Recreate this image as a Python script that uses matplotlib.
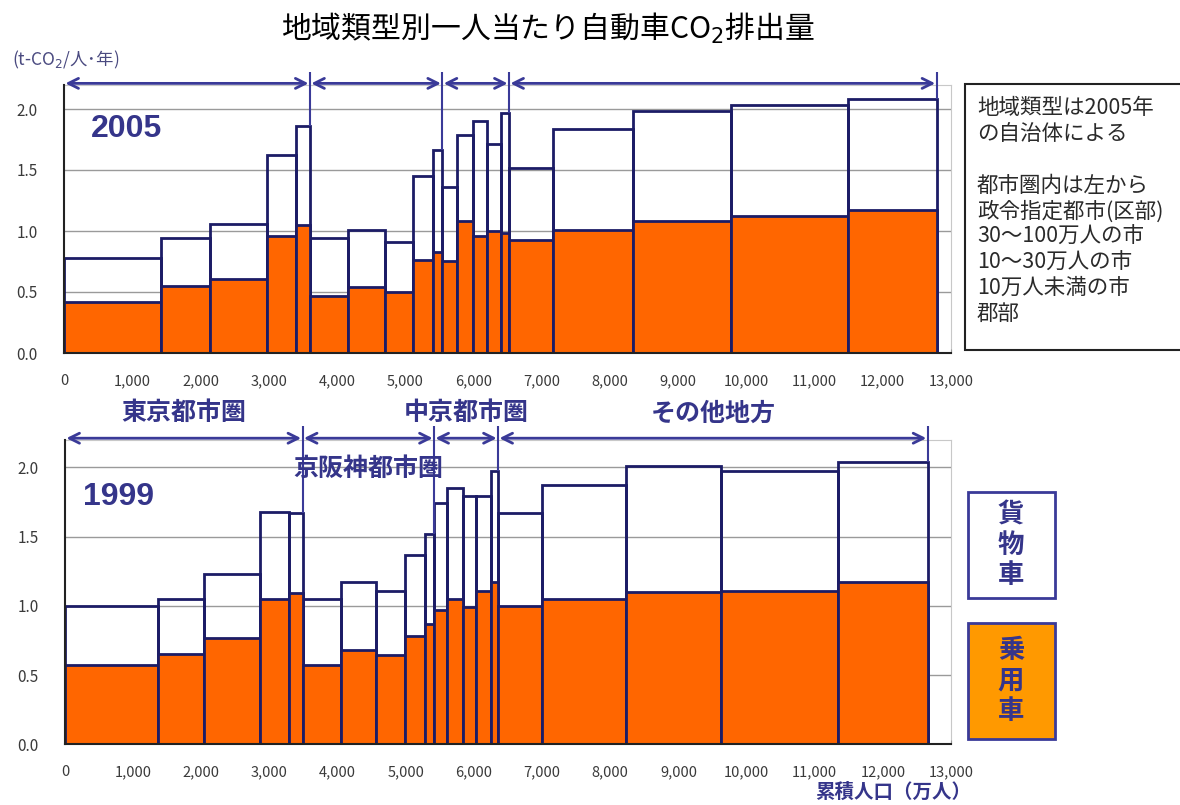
import numpy as np
import matplotlib
matplotlib.use('Agg')
import matplotlib.pyplot as plt
from matplotlib.patches import Rectangle

plt.rcParams['font.family'] = ['Noto Sans CJK JP', 'DejaVu Sans']
plt.rcParams['mathtext.fontset'] = 'dejavusans'

# 累積人口の区切り(万人) と 一人当たりCO2 (合計 / 乗用車)
edges_2005 = [0, 1415, 2138, 2979, 3394, 3604, 4167, 4699, 5114, 5408, 5545,
              5755, 5990, 6205, 6400, 6522, 7167, 8340, 9772, 11484, 12789]
total_2005 = [0.78, 0.94, 1.06, 1.62, 1.86, 0.94, 1.01, 0.91, 1.45, 1.66,
              1.36, 1.79, 1.90, 1.71, 1.97, 1.52, 1.84, 1.98, 2.03, 2.08]
car_2005 = [0.42, 0.55, 0.61, 0.96, 1.05, 0.47, 0.54, 0.50, 0.76, 0.83,
            0.75, 1.08, 0.96, 1.00, 0.98, 0.93, 1.01, 1.08, 1.12, 1.17]

edges_1999 = [0, 1359, 2038, 2859, 3280, 3485, 4047, 4556, 4995, 5279, 5415,
              5611, 5841, 6036, 6246, 6354, 6999, 8236, 9619, 11339, 12658]
total_1999 = [1.00, 1.05, 1.23, 1.68, 1.67, 1.05, 1.17, 1.11, 1.37, 1.52,
              1.74, 1.85, 1.79, 1.79, 1.97, 1.67, 1.87, 2.01, 1.97, 2.04]
car_1999 = [0.57, 0.65, 0.77, 1.05, 1.09, 0.57, 0.68, 0.645, 0.78, 0.87,
            0.97, 1.05, 0.99, 1.11, 1.17, 1.00, 1.05, 1.10, 1.11, 1.17]

regions = ['東京都市圏', '京阪神都市圏', '中京都市圏', 'その他地方']
xticks = np.arange(0, 14000, 1000)
yticks = [0.0, 0.5, 1.0, 1.5, 2.0]

note_lines = ['地域類型は2005年', 'の自治体による', '', '都市圏内は左から',
              '政令指定都市(区部)', '30～100万人の市', '10～30万人の市',
              '10万人未満の市', '郡部']

orange = '#FF6600'
edge = '#1c1c66'
navy = '#3a3a98'
txt_navy = '#35358a'

W, H = 1180, 805
fig = plt.figure(figsize=(W / 100, H / 100), dpi=100)


def px_axes(left, top, right, bottom):
    return fig.add_axes([left / W, 1 - bottom / H, (right - left) / W, (bottom - top) / H])


def draw_panel(ax, edges, total, car, year, year_pos, labels):
    edges = np.array(edges)
    widths = np.diff(edges)
    # 貨物車分は塗りなし(目盛線が透けて見える)
    ax.bar(edges[:-1], total, width=widths, align='edge', color='none',
           edgecolor=edge, linewidth=2, zorder=3)
    ax.bar(edges[:-1], car, width=widths, align='edge', color=orange,
           edgecolor=edge, linewidth=2, zorder=4)
    ax.set_xlim(0, 13000)
    ax.set_ylim(0, 2.2)
    ax.set_yticks(yticks)
    ax.set_yticklabels([f'{v:.1f}' for v in yticks])
    ax.set_xticks(xticks)
    ax.set_xticklabels([f'{v:,}' for v in xticks])
    ax.grid(axis='y', color='#9a9a9a', linewidth=1, zorder=2)
    ax.set_axisbelow(False)
    ax.tick_params(axis='x', length=3, direction='in', color='#999999',
                   labelsize=10.5, labelcolor='#3a3a3a', pad=15)
    ax.tick_params(axis='y', length=0, labelsize=11, labelcolor='#3a3a3a', pad=19)
    for s in ['top', 'right']:
        ax.spines[s].set_color('#c8c8c8')
    for s in ['left', 'bottom']:
        ax.spines[s].set_color('#222222')
        ax.spines[s].set_linewidth(1.5)
        ax.spines[s].set_zorder(5)
    ax.text(year_pos[0], year_pos[1], year, transform=ax.transAxes, fontsize=23,
            fontweight='bold', color=txt_navy, va='center', ha='left',
            family=['Liberation Sans', 'DejaVu Sans'])

    # 都市圏の範囲を示す矢印
    bounds = [0, edges[5], edges[10], edges[15], edges[20]]
    for i in range(4):
        ax.annotate('', xy=(bounds[i + 1], 2.21), xytext=(bounds[i], 2.21),
                    arrowprops=dict(arrowstyle='<->', color=navy, lw=2,
                                    shrinkA=1, shrinkB=1, mutation_scale=18),
                    annotation_clip=False, zorder=6)
    for k in [5, 10, 15, 20]:
        ax.vlines(edges[k], total[k - 1], 2.3, color=navy, lw=1.5,
                  clip_on=False, zorder=6)
    if labels:
        for i, name in enumerate(regions):
            cx = (bounds[i] + bounds[i + 1]) / 2
            cy = 1.99 if i == 1 else 2.39
            ax.text(cx, cy, name, ha='center', va='center', fontsize=18,
                    fontweight='bold', color=txt_navy, zorder=7, clip_on=False)


ax1 = px_axes(64, 84.6, 951, 353)
draw_panel(ax1, edges_2005, total_2005, car_2005, '2005', (0.03, 0.835), False)

ax2 = px_axes(65, 439.6, 951, 744.3)
draw_panel(ax2, edges_1999, total_1999, car_1999, '1999', (0.02, 0.81), True)

fig.text(548 / W, 1 - 28 / H, '地域類型別一人当たり自動車CO$_2$排出量', ha='center',
         va='center', fontsize=21.5, color='black')
fig.text(12 / W, 1 - 60 / H, '(t-CO$_2$/人･年)', ha='left', va='center',
         fontsize=12.5, color='#4a4a80')
fig.text(893 / W, 1 - 792 / H, '累積人口（万人）', ha='center', va='center',
         fontsize=14, fontweight='bold', color=txt_navy)

# 注記の枠
fig.patches.append(Rectangle((965 / W, 1 - 350 / H), 240 / W, 266 / H,
                             transform=fig.transFigure, facecolor='white',
                             edgecolor='#222222', linewidth=1.5))
y_line = 108
for line in note_lines:
    fig.text(977 / W, 1 - y_line / H, line, ha='left', va='center',
             fontsize=15.5, color='#2a2a2a')
    y_line += 25.5 if line else 27

# 凡例
fig.patches.append(Rectangle((968 / W, 1 - 598 / H), 87 / W, 106 / H,
                             transform=fig.transFigure, facecolor='white',
                             edgecolor=navy, linewidth=2))
fig.patches.append(Rectangle((968 / W, 1 - 739 / H), 87 / W, 116 / H,
                             transform=fig.transFigure, facecolor='#FF9900',
                             edgecolor=navy, linewidth=2))
fig.text(1011 / W, 1 - 545 / H, '貨\n物\n車', ha='center', va='center',
         fontsize=19, fontweight='bold', color=txt_navy, linespacing=1.15)
fig.text(1011 / W, 1 - 681 / H, '乗\n用\n車', ha='center', va='center',
         fontsize=19, fontweight='bold', color=txt_navy, linespacing=1.15)

fig.savefig('out.png', dpi=100)
